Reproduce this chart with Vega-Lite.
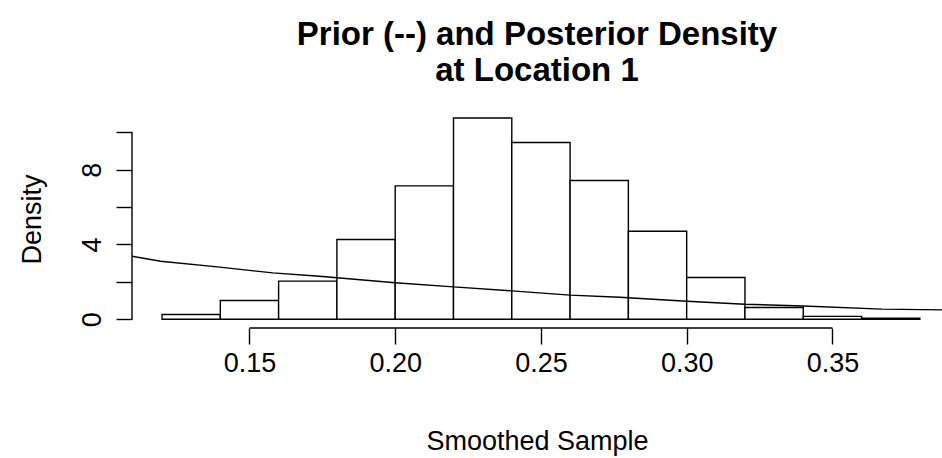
{
  "$schema": "https://vega.github.io/schema/vega-lite/v6.json",
  "width": 810,
  "height": 218,
  "autosize": {"type": "none"},
  "padding": {"left": 132, "top": 110, "right": 0, "bottom": 130},
  "background": "white",
  "title": {
    "text": ["Prior (--) and Posterior Density", "at Location 1"],
    "fontSize": 33,
    "fontWeight": "bold",
    "font": "Liberation Sans",
    "lineHeight": 36,
    "offset": 22,
    "anchor": "middle",
    "color": "black"
  },
  "datasets": {
    "hist": [
      {"lo": 0.12, "hi": 0.14, "density": 0.25},
      {"lo": 0.14, "hi": 0.16, "density": 1.00},
      {"lo": 0.16, "hi": 0.18, "density": 2.04},
      {"lo": 0.18, "hi": 0.20, "density": 4.27},
      {"lo": 0.20, "hi": 0.22, "density": 7.14},
      {"lo": 0.22, "hi": 0.24, "density": 10.77},
      {"lo": 0.24, "hi": 0.26, "density": 9.46},
      {"lo": 0.26, "hi": 0.28, "density": 7.43},
      {"lo": 0.28, "hi": 0.30, "density": 4.71},
      {"lo": 0.30, "hi": 0.32, "density": 2.23},
      {"lo": 0.32, "hi": 0.34, "density": 0.63},
      {"lo": 0.34, "hi": 0.36, "density": 0.15},
      {"lo": 0.36, "hi": 0.38, "density": 0.05}
    ],
    "prior": [
      {"p": 0.1097, "d": 3.37},
      {"p": 0.1195, "d": 3.10},
      {"p": 0.139, "d": 2.80},
      {"p": 0.158, "d": 2.48},
      {"p": 0.174, "d": 2.30},
      {"p": 0.200, "d": 1.95},
      {"p": 0.220, "d": 1.73},
      {"p": 0.240, "d": 1.52},
      {"p": 0.260, "d": 1.29},
      {"p": 0.277, "d": 1.18},
      {"p": 0.300, "d": 0.96},
      {"p": 0.320, "d": 0.80},
      {"p": 0.340, "d": 0.71},
      {"p": 0.367, "d": 0.54},
      {"p": 0.3876, "d": 0.50}
    ]
  },
  "layer": [
    {
      "data": {"name": "hist"},
      "mark": {"type": "rect", "fill": "white", "stroke": "black", "strokeWidth": 1.4},
      "encoding": {
        "x": {
          "field": "lo", "type": "quantitative",
          "scale": {"domain": [0.1097, 0.3876], "nice": false, "zero": false},
          "title": "Smoothed Sample",
          "axis": {
            "values": [0.15, 0.2, 0.25, 0.3, 0.35],
            "format": ".2f",
            "labelPadding": 6,
            "titlePadding": 52,
            "labelFlush": false,
            "labelOverlap": false
          }
        },
        "x2": {"field": "hi"},
        "y": {
          "field": "density", "type": "quantitative",
          "scale": {"domain": [-0.47, 11.2], "nice": false, "zero": false},
          "title": "Density",
          "axis": {
            "values": [0, 2, 4, 6, 8, 10],
            "labelExpr": "datum.value % 4 === 0 ? datum.label : ''",
            "labelAngle": 270,
            "labelAlign": "center",
            "labelBaseline": "alphabetic",
            "labelPadding": 16,
            "titlePadding": 32,
            "labelOverlap": false
          }
        },
        "y2": {"datum": 0}
      }
    },
    {
      "data": {"name": "prior"},
      "mark": {"type": "line", "color": "black", "strokeWidth": 1.4, "clip": true},
      "encoding": {
        "x": {"field": "p", "type": "quantitative", "title": "Smoothed Sample"},
        "y": {"field": "d", "type": "quantitative", "title": "Density"}
      }
    },
    {
      "data": {"values": [{}]},
      "mark": {"type": "rule", "color": "black", "strokeWidth": 1.4},
      "encoding": {
        "x": {"datum": 0.15, "type": "quantitative", "title": "Smoothed Sample"},
        "x2": {"datum": 0.35},
        "y": {"datum": -0.47, "type": "quantitative", "title": "Density"}
      }
    },
    {
      "data": {"values": [{}]},
      "mark": {"type": "rule", "color": "black", "strokeWidth": 1.4},
      "encoding": {
        "x": {"datum": 0.1097, "type": "quantitative", "title": "Smoothed Sample"},
        "y": {"datum": 0, "type": "quantitative", "title": "Density"},
        "y2": {"datum": 10}
      }
    }
  ],
  "config": {
    "font": "Liberation Sans",
    "view": {"stroke": null},
    "axis": {
      "grid": false,
      "domain": false,
      "tickColor": "black",
      "tickWidth": 1.4,
      "tickSize": 16,
      "labelFont": "Liberation Sans",
      "labelFontSize": 27,
      "labelColor": "black",
      "titleFont": "Liberation Sans",
      "titleFontSize": 27,
      "titleFontWeight": "normal",
      "titleColor": "black"
    }
  }
}
